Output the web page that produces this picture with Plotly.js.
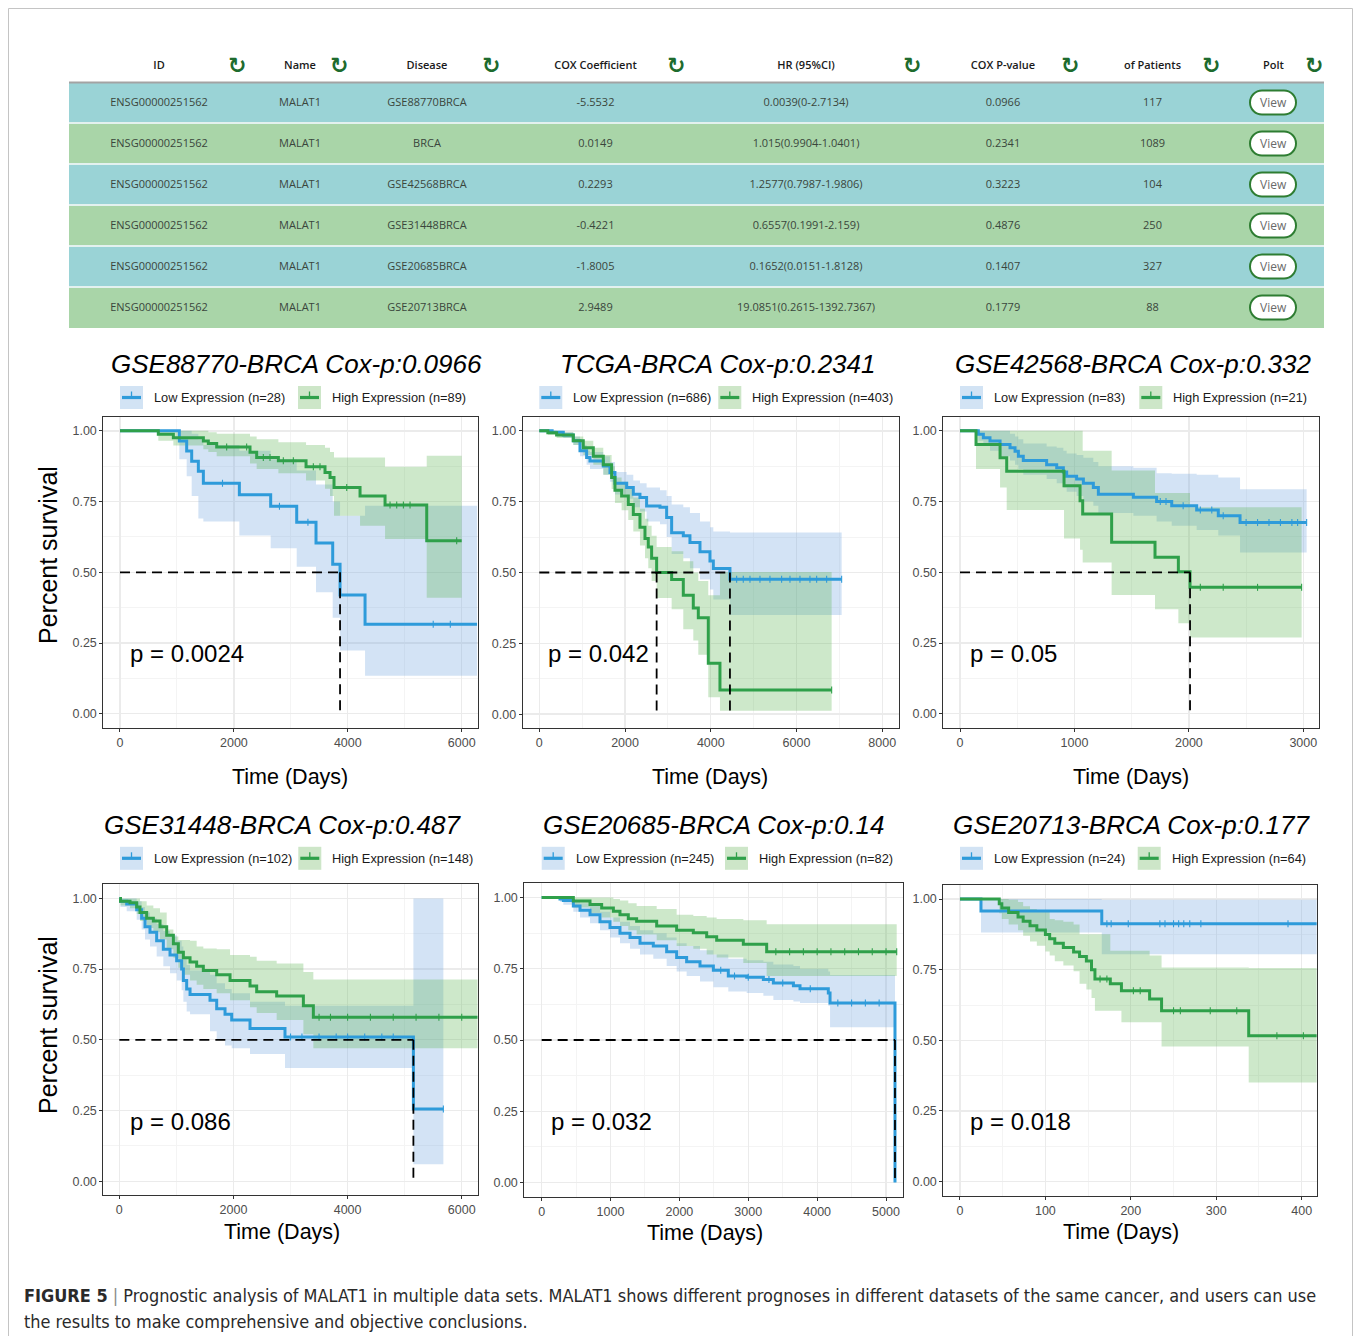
<!DOCTYPE html>
<html><head><meta charset="utf-8">
<script src="https://cdn.plot.ly/plotly-3.0.1.min.js"></script>
<style>html,body{margin:0;padding:0;background:#fff}#chart{width:1356px;height:1336px}</style>
</head><body><div id="chart"></div><script>
// ---------------- TABLE DATA ----------------
const tableHeaders = ['ID','Name','Disease','COX Coefficient','HR (95%CI)','COX P-value','of Patients','Polt'];
const colID = ['ENSG00000251562','ENSG00000251562','ENSG00000251562','ENSG00000251562','ENSG00000251562','ENSG00000251562'];
const colName = ['MALAT1','MALAT1','MALAT1','MALAT1','MALAT1','MALAT1'];
const colDisease = ['GSE88770BRCA','BRCA','GSE42568BRCA','GSE31448BRCA','GSE20685BRCA','GSE20713BRCA'];
const colCoef = ['-5.5532','0.0149','0.2293','-0.4221','-1.8005','2.9489'];
const colHR = ['0.0039(0-2.7134)','1.015(0.9904-1.0401)','1.2577(0.7987-1.9806)','0.6557(0.1991-2.159)','0.1652(0.0151-1.8128)','19.0851(0.2615-1392.7367)'];
const colP = ['0.0966','0.2341','0.3223','0.4876','0.1407','0.1779'];
const colPatients = ['117','1089','104','250','327','88'];
const colPlot = ['View','View','View','View','View','View'];

// ---------------- KM PANEL DATA ----------------
const datasetNames = ['GSE88770-BRCA','TCGA-BRCA','GSE42568-BRCA','GSE31448-BRCA','GSE20685-BRCA','GSE20713-BRCA'];
const coxP = ['0.0966','0.2341','0.332','0.487','0.14','0.177'];
const logrankP = ['0.0024','0.042','0.05','0.086','0.032','0.018'];
const nLow = [28,686,83,102,245,24];
const nHigh = [89,403,21,148,82,64];
const lowEnd = [6270,7052,3029,5678,5130,417.5];
const highEnd = [6000,6819,2985,6280,5155,417.5];
const medians = [[3864],[2737,4447],[2010],[5153],[5130],[]];

// Panel 1: GSE88770
const p1LowTime  = [0,1042,1171,1259,1376,1464,2096,2646,3103,3442,3735,3864,4303];
const p1LowSurv  = [1,.964,.929,.893,.857,.815,.774,.734,.677,.604,.529,.420,.317];
const p1LowLower = [1,.90,.84,.77,.69,.68,.63,.585,.52,.43,.34,.224,.135];
const p1LowUpper = [1,1,1,.99,.97,.95,.93,.90,.86,.81,.75,.70,.735];
const p1LowCensor = [1800,2800,3300,5500,5800];
const p1HighTime  = [0,673,937,1464,1551,1698,2283,2400,2781,3267,3600,3688,3758,4215,4654,5386];
const p1HighSurv  = [1,.988,.976,.964,.955,.943,.924,.906,.894,.873,.853,.835,.800,.770,.738,.612];
const p1HighLower = [1,.965,.948,.935,.925,.91,.885,.865,.85,.825,.795,.77,.70,.665,.618,.41];
const p1HighUpper = [1,1,1,1,.995,.99,.98,.97,.96,.95,.94,.925,.906,.906,.873,.912];
const p1HighCensor = [1873,2224,2517,2634,2868,3044,3395,3512,3981,4742,4859,4976,5093,5912];

// Panel 2: TCGA
const p2LowTime  = [0,300,560,793,949,1104,1182,1493,1648,1765,2037,2193,2348,2503,2815,2970,3087,3359,3514,3748,3981,4059,4447];
const p2LowSurv  = [1,.995,.985,.965,.93,.906,.894,.876,.853,.815,.80,.776,.765,.735,.73,.694,.64,.63,.606,.573,.541,.514,.476];
const p2LowLower = [1,.99,.975,.95,.91,.88,.865,.845,.82,.775,.76,.73,.715,.68,.67,.625,.565,.55,.515,.475,.44,.405,.35];
const p2LowUpper = [1,1,.995,.98,.95,.93,.925,.91,.89,.855,.845,.825,.815,.80,.79,.77,.74,.73,.71,.68,.66,.645,.641];
const p2LowCensor = [4603,4758,4914,5147,5380,5652,5847,6080,6313,6469,6702,7052];
const p2HighTime  = [0,200,404,793,1026,1260,1493,1687,1765,1920,2076,2193,2348,2465,2542,2620,2737,3087,3359,3592,3709,3942,4214];
const p2HighSurv  = [1,.993,.985,.965,.94,.91,.88,.835,.79,.77,.74,.705,.66,.62,.59,.55,.50,.475,.42,.375,.34,.18,.085];
const p2HighLower = [1,.985,.975,.95,.915,.88,.845,.795,.745,.72,.685,.645,.595,.55,.515,.47,.41,.37,.30,.26,.21,.06,.012];
const p2HighUpper = [1,1,.995,.98,.965,.94,.915,.875,.835,.82,.795,.765,.725,.69,.665,.63,.59,.575,.54,.50,.47,.42,.502];
const p2HighCensor = [6819];

// Panel 3: GSE42568
const p3LowTime  = [0,160,204,262,350,437,481,510,553,757,845,903,932,1019,1078,1165,1209,1515,1718,1850,2068,2257,2447];
const p3LowSurv  = [1,.988,.976,.964,.952,.94,.928,.91,.895,.88,.87,.855,.84,.83,.815,.80,.776,.765,.75,.735,.72,.70,.676];
const p3LowLower = [1,.965,.95,.93,.91,.895,.88,.865,.845,.83,.815,.80,.785,.77,.75,.735,.71,.70,.68,.665,.65,.63,.57];
const p3LowUpper = [1,1,1,1,1,.99,.98,.97,.955,.945,.94,.93,.92,.915,.905,.89,.875,.87,.85,.848,.845,.835,.794];
const p3LowCensor = [1750,1800,1950,2100,2200,2300,2500,2600,2700,2800,2900,2950,3029];
const p3HighTime  = [0,140,350,408,909,1049,1072,1325,1704,1908,2010];
const p3HighSurv  = [1,.952,.905,.857,.806,.753,.706,.606,.553,.502,.447];
const p3HighLower = [1,.865,.80,.72,.62,.58,.535,.42,.37,.32,.27];
const p3HighUpper = [1,1,1,1,1,1,.93,.86,.78,.78,.73];
const p3HighCensor = [2100,2300,2600,2985];

// Panel 4: GSE31448
const p4LowTime  = [0,20,129,304,391,450,537,654,771,888,1005,1092,1122,1180,1239,1589,1706,1852,1969,2290,2903,5153];
const p4LowSurv  = [1,.99,.98,.96,.93,.90,.88,.85,.82,.80,.78,.75,.71,.68,.66,.64,.61,.59,.57,.54,.51,.255];
const p4LowLower = [1,.97,.955,.925,.89,.855,.83,.795,.76,.735,.71,.675,.635,.60,.59,.53,.50,.48,.47,.45,.40,.06];
const p4LowUpper = [1,1,1,.99,.97,.95,.93,.91,.885,.87,.85,.83,.79,.765,.745,.73,.70,.68,.665,.635,.62,1];
const p4LowCensor = [3000,3200,3500,3800,4000,4300,4600,4800,5678];
const p4HighTime  = [0,20,187,304,362,479,596,713,830,947,1034,1122,1239,1355,1472,1706,1940,2290,2407,2757,3225,3400];
const p4HighSurv  = [1,.99,.985,.97,.95,.93,.92,.90,.87,.84,.81,.79,.775,.76,.745,.73,.71,.69,.67,.655,.62,.58];
const p4HighLower = [1,.975,.965,.945,.92,.895,.88,.855,.82,.79,.755,.73,.71,.695,.68,.665,.64,.615,.595,.57,.52,.47];
const p4HighUpper = [1,1,1,1,.99,.975,.965,.95,.89,.865,.853,.853,.85,.83,.823,.82,.80,.794,.78,.77,.74,.713];
const p4HighCensor = [3500,3700,4000,4400,4800,5200,5600,6000];

// Panel 5: GSE20685
const p5LowTime  = [0,266,315,460,557,702,847,992,1137,1283,1428,1621,1815,1960,2105,2299,2493,2710,2977,3219,3364,3655,3751,4162,4187,5130];
const p5LowSurv  = [1,.995,.99,.97,.955,.94,.915,.895,.875,.86,.84,.83,.81,.79,.775,.76,.745,.725,.72,.712,.70,.69,.68,.665,.63,0];
const p5LowLower = [1,.985,.975,.95,.93,.91,.885,.86,.84,.82,.80,.785,.76,.74,.725,.705,.685,.67,.665,.655,.64,.635,.63,.62,.545,0];
const p5LowUpper = [1,1,1,.99,.98,.97,.95,.93,.915,.90,.885,.875,.86,.84,.83,.815,.80,.785,.78,.775,.765,.76,.75,.74,.728,0];
const p5LowCensor = [2600,2800,3000,3300,3500,3900,4300,4500,4700,4900];
const p5HighTime  = [0,460,702,871,1041,1137,1258,1379,1670,1960,2202,2396,2541,2928,3267];
const p5HighSurv  = [1,.988,.976,.963,.952,.94,.926,.917,.90,.885,.876,.862,.85,.836,.81];
const p5HighLower = [1,.965,.945,.93,.915,.90,.885,.87,.85,.83,.82,.80,.79,.77,.725];
const p5HighUpper = [1,1,1,1,.995,.99,.98,.97,.96,.94,.935,.93,.925,.92,.906];
const p5HighCensor = [3400,3600,3800,4000,4200,4400,4600,4800,5000,5155];

// Panel 6: GSE20713
const p6LowTime  = [0,24.6,166];
const p6LowSurv  = [1,.958,.913];
const p6LowLower = [1,.882,.805];
const p6LowUpper = [1,1,.998];
const p6LowCensor = [172,177,197,234,240,250,256,262,269,282,384];
const p6HighTime  = [0,46,49,57,68,74,82,90,100,105,111,121,133,140,148,154,158,176,189,222,236,338];
const p6HighSurv  = [1,.984,.969,.953,.937,.922,.906,.891,.875,.86,.844,.829,.813,.797,.781,.75,.717,.70,.676,.646,.605,.516];
const p6HighLower = [1,.95,.93,.91,.89,.87,.85,.835,.815,.80,.78,.765,.745,.70,.68,.65,.605,.605,.564,.564,.478,.351];
const p6HighUpper = [1,1,1,.998,.99,.975,.965,.96,.955,.93,.925,.92,.91,.876,.876,.876,.876,.817,.817,.80,.758,.756];
const p6HighCensor = [164,172,203,211,250,258,293,324,371,402];

// ---------------- STYLE / LAYOUT ----------------
const W = 1356, H = 1336;
const X = px => px / W;
const Y = py => 1 - py / H;
const BLUE = '#2E9BDA', GREEN = '#2FA04A';
const BLUE_FILL = 'rgba(120,170,225,0.33)', GREEN_FILL = 'rgba(90,180,80,0.30)';
const BLUE_KEY = '#D2E3F4', GREEN_KEY = '#CDE6C8';
const SANS = 'Liberation Sans, Arial, sans-serif';
const TFONT = 'Open Sans, Lato, sans-serif';

const groups = [
  {low:[p1LowTime,p1LowSurv,p1LowLower,p1LowUpper,p1LowCensor], high:[p1HighTime,p1HighSurv,p1HighLower,p1HighUpper,p1HighCensor]},
  {low:[p2LowTime,p2LowSurv,p2LowLower,p2LowUpper,p2LowCensor], high:[p2HighTime,p2HighSurv,p2HighLower,p2HighUpper,p2HighCensor]},
  {low:[p3LowTime,p3LowSurv,p3LowLower,p3LowUpper,p3LowCensor], high:[p3HighTime,p3HighSurv,p3HighLower,p3HighUpper,p3HighCensor]},
  {low:[p4LowTime,p4LowSurv,p4LowLower,p4LowUpper,p4LowCensor], high:[p4HighTime,p4HighSurv,p4HighLower,p4HighUpper,p4HighCensor]},
  {low:[p5LowTime,p5LowSurv,p5LowLower,p5LowUpper,p5LowCensor], high:[p5HighTime,p5HighSurv,p5HighLower,p5HighUpper,p5HighCensor]},
  {low:[p6LowTime,p6LowSurv,p6LowLower,p6LowUpper,p6LowCensor], high:[p6HighTime,p6HighSurv,p6HighLower,p6HighUpper,p6HighCensor]}
];

// pixel layout of each panel (style only)
const panelStyle = [
  {box:[103.3,416.7,477.7,728],   xRange:[-293,6281], dtick:2000, keyX:[120,298],     keyY:397.5, title:[296,364],   p:[128,653],  xt:[290,777]},
  {box:[522.7,416.7,898.7,728.3], xRange:[-387,8383], dtick:2000, keyX:[539.3,718.3], keyY:397.5, title:[717.5,364], p:[546,653],  xt:[710,777]},
  {box:[943.3,416.7,1319,728],    xRange:[-146,3137], dtick:1000, keyX:[960,1139.3],  keyY:397.5, title:[1133,364],  p:[968,653],  xt:[1131,777]},
  {box:[103.3,884.3,477.7,1195.3],xRange:[-281,6280], dtick:2000, keyX:[120,298.3],   keyY:858.3, title:[283,825],   p:[128,1121], xt:[282,1232]},
  {box:[524.3,883.3,902.7,1196.7],xRange:[-252,5242], dtick:1000, keyX:[541.7,725],   keyY:858.3, title:[714,825],   p:[549,1121], xt:[705,1233]},
  {box:[943.3,885,1317.3,1195.7], xRange:[-19.5,418.3],dtick:100, keyX:[960,1137.7],  keyY:858.3, title:[1132,825],  p:[968,1121], xt:[1121,1232]}
];

function stepAt(times, surv, t){ let v = surv[0]; for (let i=0;i<times.length;i++){ if (times[i] <= t) v = surv[i]; } return v; }

const traces = [];
const annotations = [];
const shapes = [];

const axisBase = {
  showgrid:true, gridcolor:'#EBEBEB', gridwidth:1.3, zeroline:false,
  showline:true, mirror:true, linecolor:'#333333', linewidth:1,
  ticks:'outside', ticklen:3, tickcolor:'#333333', tickwidth:1,
  tickfont:{family:SANS, size:12.5, color:'#4D4D4D'}, fixedrange:true
};
const layout = {
  width:W, height:H, margin:{l:0,r:0,t:0,b:0}, paper_bgcolor:'#fff', plot_bgcolor:'#fff',
  showlegend:false, font:{family:SANS}
};

groups.forEach((g, i) => {
  const st = panelStyle[i];
  const sfx = i === 0 ? '' : String(i+1);
  const xa = 'x'+sfx, ya = 'y'+sfx;
  const [bx0, by0, bx1, by1] = st.box;
  layout['xaxis'+sfx] = Object.assign({}, axisBase, {
    domain:[X(bx0), X(bx1)], range:st.xRange, anchor:ya, tickmode:'linear', tick0:0, dtick:st.dtick,
    minor:{dtick:st.dtick/2, showgrid:true, gridcolor:'#F4F4F4', gridwidth:1}
  });
  layout['yaxis'+sfx] = Object.assign({}, axisBase, {
    domain:[Y(by1), Y(by0)], range:[-0.05,1.05], anchor:xa, tickmode:'linear', tick0:0, dtick:0.25, tickformat:'.2f',
    minor:{dtick:0.125, showgrid:true, gridcolor:'#F4F4F4', gridwidth:1}
  });

  const sets = [[g.low, lowEnd[i], BLUE, BLUE_FILL], [g.high, highEnd[i], GREEN, GREEN_FILL]];
  // confidence bands
  sets.forEach(([d, end, col, fill]) => {
    const [t, s, lo, hi] = d;
    const xs = t.concat([end]);
    traces.push({type:'scatter', mode:'lines', x:xs, y:lo.concat([lo[lo.length-1]]), xaxis:xa, yaxis:ya,
      line:{width:0, shape:'hv', color:'rgba(0,0,0,0)'}, hoverinfo:'skip'});
    traces.push({type:'scatter', mode:'lines', x:xs, y:hi.concat([hi[hi.length-1]]), xaxis:xa, yaxis:ya,
      line:{width:0, shape:'hv', color:'rgba(0,0,0,0)'}, fill:'tonexty', fillcolor:fill, hoverinfo:'skip'});
  });
  // survival curves + censor marks
  sets.forEach(([d, end, col]) => {
    const [t, s, lo, hi, cens] = d;
    traces.push({type:'scatter', mode:'lines', x:t.concat([end]), y:s.concat([s[s.length-1]]), xaxis:xa, yaxis:ya,
      line:{width:3, shape:'hv', color:col}, hoverinfo:'skip'});
    traces.push({type:'scatter', mode:'markers', x:cens, y:cens.map(c => stepAt(t, s, c)), xaxis:xa, yaxis:ya,
      marker:{symbol:'line-ns-open', size:5, color:col, line:{width:1.1, color:col}}, hoverinfo:'skip'});
  });
  // median lines
  const m = medians[i];
  if (m.length) {
    const mx = Math.max.apply(null, m);
    const lx = [0, mx], ly = [0.5, 0.5];
    m.forEach(v => { lx.push(null, v, v); ly.push(null, 0.5, 0); });
    traces.push({type:'scatter', mode:'lines', x:lx, y:ly, xaxis:xa, yaxis:ya,
      line:{width:1.8, color:'#000', dash:'10px,6px'}, hoverinfo:'skip'});
  }

  // title
  annotations.push({text:datasetNames[i] + ' Cox-p:' + coxP[i], x:X(st.title[0]), y:Y(st.title[1]), xref:'paper', yref:'paper',
    showarrow:false, xanchor:'center', yanchor:'middle', font:{family:SANS, size:26, style:'italic', color:'#000'}});
  // legend
  const labels = ['Low Expression (n=' + nLow[i] + ')', 'High Expression (n=' + nHigh[i] + ')'];
  [[BLUE, BLUE_KEY], [GREEN, GREEN_KEY]].forEach(([col, key], k) => {
    const kx = st.keyX[k], ky = st.keyY;
    shapes.push({type:'rect', xref:'paper', yref:'paper', x0:X(kx), x1:X(kx+23), y0:Y(ky+11.5), y1:Y(ky-11.5), fillcolor:key, line:{width:0}});
    shapes.push({type:'line', xref:'paper', yref:'paper', x0:X(kx+2), x1:X(kx+21), y0:Y(ky), y1:Y(ky), line:{color:col, width:3.2}});
    shapes.push({type:'line', xref:'paper', yref:'paper', x0:X(kx+11.5), x1:X(kx+11.5), y0:Y(ky-6), y1:Y(ky), line:{color:col, width:1.3}});
    annotations.push({text:labels[k], x:X(kx+32), y:Y(ky), xref:'paper', yref:'paper', showarrow:false, xanchor:'left', yanchor:'middle',
      font:{family:SANS, size:12.8, color:'#1a1a1a'}});
  });
  // p-value
  annotations.push({text:'p = ' + logrankP[i], x:X(st.p[0]), y:Y(st.p[1]), xref:'paper', yref:'paper', showarrow:false,
    xanchor:'left', yanchor:'middle', font:{family:SANS, size:24, color:'#000'}});
  // x-axis title
  annotations.push({text:'Time (Days)', x:X(st.xt[0]), y:Y(st.xt[1]), xref:'paper', yref:'paper', showarrow:false,
    xanchor:'center', yanchor:'middle', font:{family:SANS, size:21.5, color:'#000'}});
});
// y-axis titles
[555, 1025].forEach(cy => annotations.push({text:'Percent survival', x:X(48), y:Y(cy), xref:'paper', yref:'paper', showarrow:false,
  textangle:-90, xanchor:'center', yanchor:'middle', font:{family:SANS, size:25, color:'#000'}}));

// ---------------- TABLE ----------------
const colWidths = [180,102,152,185,236,158,141,101];
const rowColors = colID.map((_, r) => r % 2 === 0 ? '#9AD3D6' : '#A9D5A8');
const blankCol = colID.map(() => '');
// background cells
traces.push({
  type:'table',
  domain:{x:[X(69), X(1324)], y:[Y(332), Y(45)]},
  columnwidth:colWidths,
  header:{values:tableHeaders.map(() => ''), height:37, fill:{color:'#ffffff'}, line:{width:0, color:'#ffffff'}},
  cells:{values:tableHeaders.map(() => blankCol), height:41, fill:{color:[rowColors]}, line:{width:0, color:'#ffffff'}}
});
// text layer (table places text near the top of a cell, so this layer sits lower to centre it)
traces.push({
  type:'table',
  domain:{x:[X(69), X(1324)], y:[Y(345), Y(53)]},
  columnwidth:colWidths,
  header:{values:tableHeaders, height:37, align:'center', fill:{color:'rgba(0,0,0,0)'}, line:{width:0, color:'rgba(0,0,0,0)'},
    font:{family:TFONT, size:11, color:'#1a1a1a', weight:600}},
  cells:{values:[colID,colName,colDisease,colCoef,colHR,colP,colPatients,blankCol], height:41, align:'center',
    fill:{color:'rgba(0,0,0,0)'}, line:{width:0, color:'rgba(0,0,0,0)'},
    font:{family:TFONT, size:11, color:'#3a463c'}}
});
// header underline and row separators
shapes.push({type:'line', xref:'paper', yref:'paper', x0:X(69), x1:X(1324), y0:Y(82.5), y1:Y(82.5), line:{color:'#A3A3A3', width:2}});
colID.slice(1).forEach((_, r) => {
  const sy = 82 + 41*(r+1);
  shapes.push({type:'line', xref:'paper', yref:'paper', x0:X(69), x1:X(1324), y0:Y(sy), y1:Y(sy), line:{color:'#E3F1EF', width:2}});
});
// sort icons
[237,339,491,676,912,1070,1211,1314].forEach(ix => annotations.push({text:'↻', x:X(ix), y:Y(65), xref:'paper', yref:'paper',
  showarrow:false, xanchor:'center', yanchor:'middle', font:{family:'DejaVu Sans', size:22, color:'#1E6B2E', weight:700}}));
// View pills
function pill(cx, cy, w, h){
  const r = h/2, k = 0.5523*r, xl = cx - w/2, xr = cx + w/2, yt = cy - h/2, yb = cy + h/2;
  const P = (x,y) => X(x) + ',' + Y(y);
  return 'M' + P(xl+r,yt) + ' L' + P(xr-r,yt) +
    ' C' + P(xr-r+k,yt) + ' ' + P(xr,cy-k) + ' ' + P(xr,cy) +
    ' C' + P(xr,cy+k) + ' ' + P(xr-r+k,yb) + ' ' + P(xr-r,yb) +
    ' L' + P(xl+r,yb) +
    ' C' + P(xl+r-k,yb) + ' ' + P(xl,cy+k) + ' ' + P(xl,cy) +
    ' C' + P(xl,cy-k) + ' ' + P(xl+r-k,yt) + ' ' + P(xl+r,yt) + ' Z';
}
colPlot.forEach((label, r) => {
  const cy = 82 + 41*r + 20.5;
  shapes.push({type:'path', xref:'paper', yref:'paper', path:pill(1273, cy, 46, 24), line:{color:'#2E7D32', width:2}, fillcolor:'#ffffff'});
  annotations.push({text:label, x:X(1273), y:Y(cy), xref:'paper', yref:'paper', showarrow:false, xanchor:'center', yanchor:'middle',
    font:{family:TFONT, size:12, color:'#6a6a6a'}});
});

// figure border
shapes.push({type:'rect', xref:'paper', yref:'paper', x0:X(8.5), x1:X(1352.5), y0:Y(1345), y1:Y(8.5), line:{color:'#C4C4C4', width:1}, fillcolor:'rgba(0,0,0,0)', layer:'below'});

// caption
const CAP = 'Liberation Sans Narrow, Arial Narrow, DejaVu Sans Condensed, sans-serif';
annotations.push({text:'<b>FIGURE 5</b> <span style="color:#8a8a8a">|</span> Prognostic analysis of MALAT1 in multiple data sets. MALAT1 shows different prognoses in different datasets of the same cancer, and users can use',
  x:X(22), y:Y(1295), xref:'paper', yref:'paper', showarrow:false, xanchor:'left', yanchor:'middle', align:'left', font:{family:CAP, size:17.95, color:'#2a2a2a'}});
annotations.push({text:'the results to make comprehensive and objective conclusions.',
  x:X(22), y:Y(1321), xref:'paper', yref:'paper', showarrow:false, xanchor:'left', yanchor:'middle', align:'left', font:{family:CAP, size:17.95, color:'#2a2a2a'}});

layout.annotations = annotations;
layout.shapes = shapes;

Plotly.newPlot('chart', traces, layout, {staticPlot:true, responsive:false});
</script></body></html>
